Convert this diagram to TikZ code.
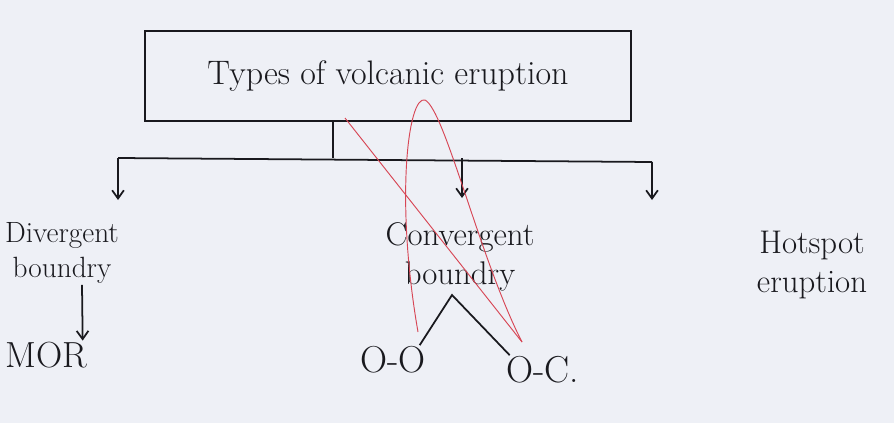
\documentclass[tikz,border=0pt]{standalone}
\usepackage{tikz}
\usetikzlibrary{arrows.meta,positioning,calc}
\definecolor{InkBlack}{RGB}{25,25,30}
\definecolor{PenRed}{RGB}{215,70,85}
\definecolor{PaperBg}{RGB}{238,240,246}

\begin{document}
\begin{tikzpicture}[x=0.03cm,y=-0.03cm,>={Straight Barb[length=7pt,width=10pt]},
    ink/.style={line width=1.5pt,InkBlack},
    link/.style={ink,->},
    lbl/.style={align=center,inner sep=1pt,font=\fontsize{28}{33}\selectfont,text=InkBlack}]
  \fill[PaperBg] (0,0) rectangle (894,423);
  \useasboundingbox (0,0) rectangle (894,423);
  % heading box
  \node[draw=InkBlack,line width=1.5pt,minimum width=14.6cm,minimum height=2.7cm,
        font=\fontsize{29}{34}\selectfont,text=InkBlack] (title) at (388,76) {Types of volcanic eruption};
  % branches
  \coordinate (hub) at (333,158);
  \coordinate (busL) at (118,158);
  \coordinate (busM) at (462,158);
  \coordinate (busR) at (652,162);
  \draw[ink] (title.south -| hub) -- (hub);
  \draw[ink] (busL) -- (busR);
  \node[lbl,font=\fontsize{25}{30}\selectfont] (div) at (62,253) {Divergent\\boundry};
  \node[lbl] (conv) at (460,257) {Convergent\\boundry};
  \node[lbl] (hot) at (812,265) {Hotspot\\eruption};
  \draw[link] (busL) -- ++(0,42);
  \draw[link] (busM) -- ++(0,40);
  \draw[link] (busR) -- ++(0,38);
  % below the boundaries
  \node[lbl,font=\fontsize{31}{36}\selectfont] (mor) at (46,355) {MOR};
  \node[lbl,font=\fontsize{32}{36}\selectfont] (oo) at (393,360) {O-O};
  \node[lbl,font=\fontsize{32}{36}\selectfont] (oc) at (543,370) {O-C.};
  \draw[link] ([xshift=0.6cm]div.south) -- ([xshift=1.1cm]mor.north);
  \coordinate (fork) at (452,295);
  \draw[ink] ([xshift=0.8cm]oo.north) -- (fork) -- ([xshift=-1cm]oc.north);
  % red pen marks
  \draw[PenRed,line width=0.8pt] (345,118) -- (522,342);
  \draw[PenRed,line width=0.8pt] (418,332) .. controls (395,200) and (408,95) .. (425,100)
        .. controls (445,110) and (480,260) .. (522,342);
\end{tikzpicture}
\end{document}
